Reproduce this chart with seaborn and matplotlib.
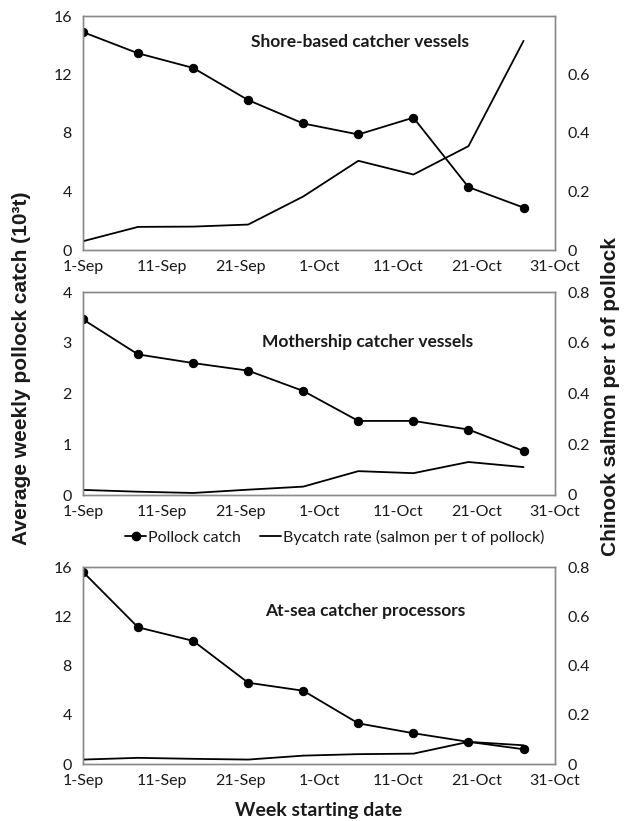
import numpy as np
import pandas as pd
import matplotlib
matplotlib.use("Agg")
import matplotlib.pyplot as plt
import matplotlib.dates as mdates
from matplotlib.lines import Line2D
import seaborn as sns

# ---------------- data ----------------
YEAR = "2010"
week_start = ["1-Sep", "8-Sep", "15-Sep", "22-Sep", "29-Sep",
              "6-Oct", "13-Oct", "20-Oct", "27-Oct"]
tick_labels = ["1-Sep", "11-Sep", "21-Sep", "1-Oct", "11-Oct", "21-Oct", "31-Oct"]

shore_catch = [14.9, 13.45, 12.45, 10.25, 8.65, 7.9, 9.05, 4.3, 2.9]
shore_bycatch = [0.03, 0.079, 0.08, 0.087, 0.183, 0.305, 0.258, 0.355, 0.715]

mother_catch = [3.46, 2.77, 2.60, 2.45, 2.05, 1.46, 1.46, 1.29, 0.87]
mother_bycatch = [0.02, 0.013, 0.008, 0.021, 0.033, 0.094, 0.086, 0.13, 0.11]

atsea_catch = [15.6, 11.1, 10.0, 6.6, 5.95, 3.3, 2.5, 1.8, 1.2]
atsea_bycatch = [0.018, 0.025, 0.021, 0.018, 0.034, 0.04, 0.042, 0.09, 0.076]

panel_titles = ["Shore-based catcher vessels", "Mothership catcher vessels",
                "At-sea catcher processors"]
left_ticks = [[0, 4, 8, 12, 16], [0, 1, 2, 3, 4], [0, 4, 8, 12, 16]]
left_max = [16, 4, 16]
right_ticks = [[0, 0.2, 0.4, 0.6], [0, 0.2, 0.4, 0.6, 0.8], [0, 0.2, 0.4, 0.6, 0.8]]
right_max = [0.8, 0.8, 0.8]

# ---------------- style ----------------
sns.set_style("white")
plt.rcParams['font.family'] = ['Lato', 'DejaVu Sans']

def to_dates(labels):
    return pd.to_datetime([f"{s}-{YEAR}" for s in labels], format="%d-%b-%Y")

dates = to_dates(week_start)
tick_dates = to_dates(tick_labels)

W, H = 624, 821
fig = plt.figure(figsize=(W / 100, H / 100), dpi=100)

# axes boxes in pixels: (left, top, right, bottom)
boxes = [(83, 16, 555, 250), (83, 292, 555, 495), (83, 567, 555, 764)]
title_pos = [(360, 42), (368, 342), (365, 611)]

catches = [shore_catch, mother_catch, atsea_catch]
bycatches = [shore_bycatch, mother_bycatch, atsea_bycatch]

frame_col = "#8a8a8a"
txt_col = "#1a1a1a"

for i in range(3):
    l, t, r, b = boxes[i]
    ax = fig.add_axes([l / W, 1 - b / H, (r - l) / W, (b - t) / H])
    df = pd.DataFrame({"date": dates, "catch": catches[i], "bycatch": bycatches[i]})
    sns.lineplot(data=df, x="date", y="catch", ax=ax, color="black",
                 marker="o", markersize=6, markeredgecolor="black", linewidth=1.3)
    ax2 = ax.twinx()
    sns.lineplot(data=df, x="date", y="bycatch", ax=ax2, color="black", linewidth=1.3)

    ax.set_ylim(0, left_max[i])
    ax.set_yticks(left_ticks[i])
    ax.set_yticklabels([str(v) for v in left_ticks[i]])
    ax2.set_ylim(0, right_max[i])
    ax2.set_yticks(right_ticks[i])
    ax2.set_yticklabels(["0" if v == 0 else f"{v:.1f}" for v in right_ticks[i]])

    ax.set_xlim(tick_dates[0], tick_dates[-1])
    ax.set_xticks(tick_dates)
    ax.set_xticklabels(tick_labels)

    for a in (ax, ax2):
        a.set_xlabel("")
        a.set_ylabel("")
        for s in a.spines.values():
            s.set_color(frame_col)
            s.set_linewidth(1.0)
        a.tick_params(length=0, labelsize=11.5, labelcolor=txt_col)
    ax.tick_params(axis="y", pad=8)
    ax.tick_params(axis="x", pad=7)
    ax2.tick_params(axis="y", pad=9)

    tx, ty = title_pos[i]
    fig.text(tx / W, 1 - ty / H, panel_titles[i], ha="center", va="center",
             fontsize=12.5, fontweight="bold", color=txt_col)

# axis labels
fig.text(22 / W, 1 - 368 / H, "Average weekly pollock catch (10³t)", rotation=90,
         ha="center", va="center", fontsize=15, fontweight="bold",
         family=["Liberation Sans", "DejaVu Sans"], color=txt_col)
fig.text(610 / W, 1 - 397 / H, "Chinook salmon per t of pollock", rotation=90,
         ha="center", va="center", fontsize=15, fontweight="bold",
         family=["Liberation Sans", "DejaVu Sans"], color=txt_col)
fig.text(319 / W, 1 - 810 / H, "Week starting date", ha="center", va="center",
         fontsize=14, fontweight="bold", color=txt_col)

# legend
handles = [Line2D([], [], color="black", marker="o", markersize=6, linewidth=1.3),
           Line2D([], [], color="black", linewidth=1.3)]
fig.legend(handles, ["Pollock catch", "Bycatch rate (salmon per t of pollock)"],
           loc="center", bbox_to_anchor=(335 / W, 1 - 537 / H), ncol=2,
           frameon=False, fontsize=11.5, handlelength=1.3, handletextpad=0.15,
           columnspacing=1.2, labelcolor=txt_col)

fig.savefig("out.png", dpi=100)
